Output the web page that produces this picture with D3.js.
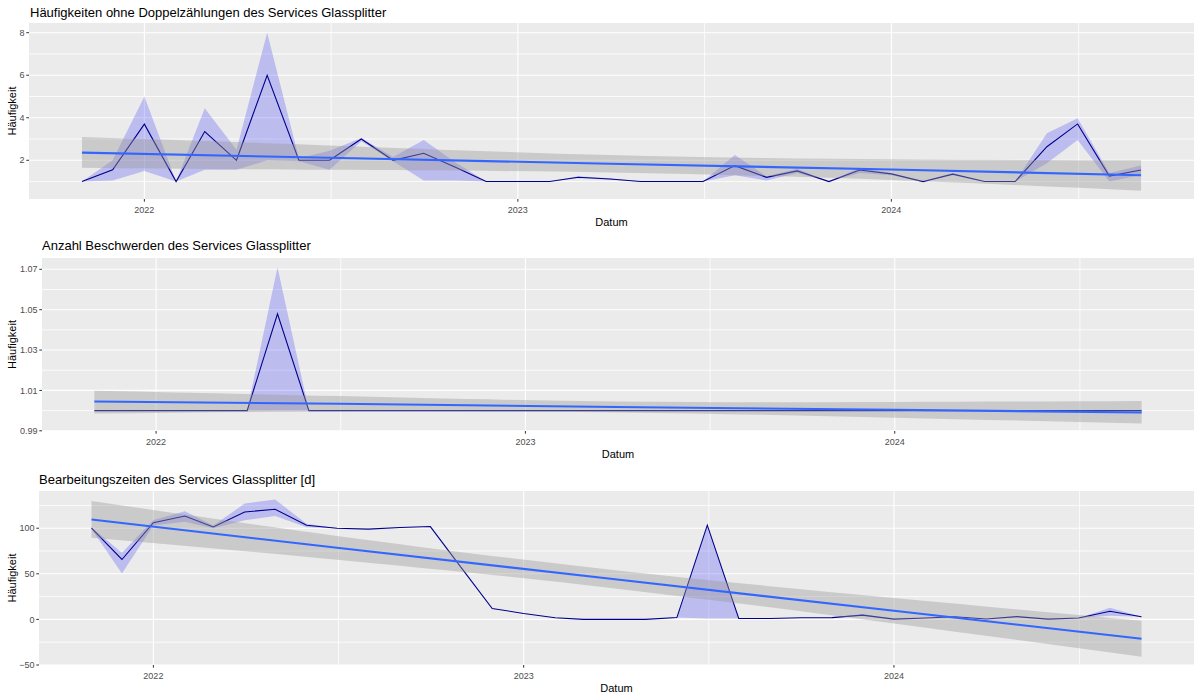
<!DOCTYPE html>
<html><head><meta charset="utf-8">
<script src="https://cdn.jsdelivr.net/npm/d3@7"></script>
<style>
html,body{margin:0;padding:0;background:#fff;}
svg{display:block;font-family:"Liberation Sans",Arial,sans-serif;}
</style></head>
<body>
<svg id="chart" width="1200" height="700"></svg>
<script>
// ---------- DATA ----------
const dates = ["2021-11-01","2021-12-01","2022-01-01","2022-02-01","2022-03-01","2022-04-01","2022-05-01","2022-06-01","2022-07-01","2022-08-01","2022-09-01","2022-10-01","2022-11-01","2022-12-01","2023-01-01","2023-02-01","2023-03-01","2023-04-01","2023-05-01","2023-06-01","2023-07-01","2023-08-01","2023-09-01","2023-10-01","2023-11-01","2023-12-01","2024-01-01","2024-02-01","2024-03-01","2024-04-01","2024-05-01","2024-06-01","2024-07-01","2024-08-01","2024-09-01"];

// Panel 1: Häufigkeiten ohne Doppelzählungen
const haeufValues = [1,1.55,3.7,1,3.35,2.0,6.0,2.0,2.0,3.0,2.0,2.33,1.67,1,1,1,1.2,1.12,1.0,1,1,1.75,1.2,1.5,1,1.54,1.36,1,1.35,1,1,2.64,3.71,1.26,1.54];
const haeufLower  = [1,1.05,1.5,1,1.55,1.55,2.0,1.95,1.55,2.9,1.95,1.05,1.05,1,1,1,1.15,1.08,1.0,1,1,1.3,1.05,1.4,1,1.4,1.3,1,1.3,1,1,1.86,2.96,1.0,1.31];
const haeufUpper  = [1,2.0,5.0,1,4.45,2.5,8.0,2.1,2.45,3.05,2.15,2.95,1.9,1,1,1,1.25,1.15,1.0,1,1,2.25,1.25,1.6,1,1.65,1.4,1,1.4,1,1,3.27,3.98,1.4,1.75];

// Panel 2: Anzahl Beschwerden
const beschValues = [1,1,1,1,1,1,1.048,1,1,1,1,1,1,1,1,1,1,1,1,1,1,1,1,1,1,1,1,1,1,1,1,1,1,1,1];
const beschLower  = [1,1,1,1,1,1,1.0,1,1,1,1,1,1,1,1,1,1,1,1,1,1,1,1,1,1,1,1,1,1,1,1,1,1,1,1];
const beschUpper  = [1,1,1,1,1,1,1.071,1,1,1,1,1,1,1,1,1,1,1,1,1,1,1,1,1,1,1,1,1,1,1,1,1,1,1,1];

// Panel 3: Bearbeitungszeiten [d]
const bearbValues = [100,65.7,106,113.4,101.4,117.8,120.8,103.3,100,99,100.7,101.8,56,12,6.5,1.8,0,0,0,2,103.3,1,1,1.8,2,4.7,0.3,1.5,2.9,0.5,3,0.3,1.5,9,2.9];
const bearbLower  = [99,50.4,103,107,100,108.7,113.4,101,100,99,100.7,101.8,56,12,6.5,1.8,0,0,0,2,1,1,1,1.8,2,3.6,0.3,1.5,2.9,0.5,3,0.3,1.5,4,2.9];
const bearbUpper  = [101,73,109,118.6,103,127,131.4,105,100,99,100.7,101.8,56,12,6.5,1.8,0,0,0,2,103.3,1,1,1.8,2,5.8,0.3,1.5,2.9,0.5,3,0.3,1.5,12.7,2.9];

// Linear trend (geom_smooth lm) read at a few dates
const trendDates = ["2021-11-01","2022-07-01","2023-04-01","2024-01-01","2024-09-01"];
const haeufTrend   = [2.36,2.12,1.84,1.565,1.30];
const haeufTrendLo = [1.65,1.55,1.43,1.07,0.57];
const haeufTrendHi = [3.10,2.70,2.25,2.05,2.00];
const beschTrend   = [1.0045,1.0034,1.0018,1.0004,0.9991];
const beschTrendLo = [0.9986,0.9996,0.9991,0.9965,0.9936];
const beschTrendHi = [1.0098,1.0072,1.0045,1.0043,1.0048];
const bearbTrend   = [109.5,78.5,44,9.5,-21.2];
const bearbTrendLo = [89.4,65.5,34,-4.5,-41];
const bearbTrendHi = [129.9,91.5,54,23.5,-1.5];

// Axis ticks
const xTickYears = ["2022","2023","2024"];
const haeufYTicks = [2,4,6,8];       const haeufYMinor = [1,3,5,7];
const beschYTicks = [0.99,1.01,1.03,1.05,1.07]; const beschYMinor = [1.00,1.02,1.04,1.06];
const bearbYTicks = [-50,0,50,100];  const bearbYMinor = [-25,25,75,125];

const titles = ["Häufigkeiten ohne Doppelzählungen des Services Glassplitter",
                "Anzahl Beschwerden des Services Glassplitter",
                "Bearbeitungszeiten des Services Glassplitter [d]"];

// ---------- DRAW ----------
const parse = d3.timeParse("%Y-%m-%d");
const svg = d3.select("#chart");

const panels = [
  {title:titles[0], vals:haeufValues, lo:haeufLower, hi:haeufUpper, tr:haeufTrend, trLo:haeufTrendLo, trHi:haeufTrendHi,
   yTicks:haeufYTicks, yMinor:haeufYMinor, fmt:d=>d3.format("d")(d), yDomain:[0.18,8.456],
   box:{left:29, right:1194, top:23, bottom:199}, titleY:17, titleX:30},
  {title:titles[1], vals:beschValues, lo:beschLower, hi:beschUpper, tr:beschTrend, trLo:beschTrendLo, trHi:beschTrendHi,
   yTicks:beschYTicks, yMinor:beschYMinor, fmt:d=>d3.format(".2f")(d), yDomain:[0.9899,1.0756],
   box:{left:42, right:1194, top:258, bottom:431}, titleY:250, titleX:42},
  {title:titles[2], vals:bearbValues, lo:bearbLower, hi:bearbUpper, tr:bearbTrend, trLo:bearbTrendLo, trHi:bearbTrendHi,
   yTicks:bearbYTicks, yMinor:bearbYMinor, fmt:d=>d3.format("d")(d), yDomain:[-50,140.8],
   box:{left:39, right:1194, top:491, bottom:665}, titleY:484, titleX:39}
];

const dts = dates.map(parse);
const tDts = trendDates.map(parse);
const ext = d3.extent(dts);
const span = ext[1]-ext[0];
const xDomain = [new Date(+ext[0]-0.05*span), new Date(+ext[1]+0.05*span)];

panels.forEach((p,pi)=>{
  const b = p.box;
  const x = d3.scaleTime().domain(xDomain).range([b.left,b.right]);
  const y = d3.scaleLinear().domain(p.yDomain).range([b.bottom,b.top]);
  const g = svg.append("g");
  g.append("rect").attr("x",b.left).attr("y",b.top).attr("width",b.right-b.left).attr("height",b.bottom-b.top).attr("fill","#EBEBEB");

  const majors = xTickYears.map(s=>parse(s+"-01-01"));
  const allYears = d3.range(2020,2027).map(yr=>new Date(yr,0,1));
  const minors = [];
  for(let i=0;i<allYears.length-1;i++){
    const m = new Date((+allYears[i]+ +allYears[i+1])/2);
    if(m>=xDomain[0] && m<=xDomain[1]) minors.push(m);
  }
  // grid
  g.selectAll(null).data(p.yMinor).enter().append("line")
    .attr("x1",b.left).attr("x2",b.right).attr("y1",d=>y(d)).attr("y2",d=>y(d))
    .attr("stroke","#fff").attr("stroke-width",0.8);
  g.selectAll(null).data(minors).enter().append("line")
    .attr("y1",b.top).attr("y2",b.bottom).attr("x1",d=>x(d)).attr("x2",d=>x(d))
    .attr("stroke","#fff").attr("stroke-width",0.8);
  g.selectAll(null).data(p.yTicks).enter().append("line")
    .attr("x1",b.left).attr("x2",b.right).attr("y1",d=>y(d)).attr("y2",d=>y(d))
    .attr("stroke","#fff").attr("stroke-width",1.1);
  g.selectAll(null).data(majors).enter().append("line")
    .attr("y1",b.top).attr("y2",b.bottom).attr("x1",d=>x(d)).attr("x2",d=>x(d))
    .attr("stroke","#fff").attr("stroke-width",1.1);

  const clipId = "clip"+pi;
  svg.append("clipPath").attr("id",clipId).append("rect")
    .attr("x",b.left).attr("y",b.top).attr("width",b.right-b.left).attr("height",b.bottom-b.top);
  const pg = g.append("g").attr("clip-path",`url(#${clipId})`);

  // ribbon (range)
  const idx = d3.range(dts.length);
  pg.append("path").datum(idx)
    .attr("d", d3.area().x(i=>x(dts[i])).y0(i=>y(p.lo[i])).y1(i=>y(p.hi[i])))
    .attr("fill","#0000FF").attr("fill-opacity",0.2);
  // mean line
  pg.append("path").datum(idx)
    .attr("d", d3.line().x(i=>x(dts[i])).y(i=>y(p.vals[i])))
    .attr("fill","none").attr("stroke","#00008B").attr("stroke-width",1.1);
  // trend band
  const tIdx = d3.range(tDts.length);
  pg.append("path").datum(tIdx)
    .attr("d", d3.area().curve(d3.curveNatural).x(i=>x(tDts[i])).y0(i=>y(p.trLo[i])).y1(i=>y(p.trHi[i])))
    .attr("fill","#999999").attr("fill-opacity",0.4);
  pg.append("path").datum(tIdx)
    .attr("d", d3.line().x(i=>x(tDts[i])).y(i=>y(p.tr[i])))
    .attr("fill","none").attr("stroke","#3366FF").attr("stroke-width",2.1);

  // axes ticks
  g.selectAll(null).data(p.yTicks).enter().append("line")
    .attr("x1",b.left-2.7).attr("x2",b.left).attr("y1",d=>y(d)).attr("y2",d=>y(d))
    .attr("stroke","#333").attr("stroke-width",1);
  g.selectAll(null).data(p.yTicks).enter().append("text")
    .attr("x",b.left-4.5).attr("y",d=>y(d)).attr("dy","0.35em")
    .attr("text-anchor","end").attr("font-size",9).attr("fill","#4D4D4D").text(p.fmt);
  g.selectAll(null).data(majors).enter().append("line")
    .attr("y1",b.bottom).attr("y2",b.bottom+2.7).attr("x1",d=>x(d)).attr("x2",d=>x(d))
    .attr("stroke","#333").attr("stroke-width",1);
  g.selectAll(null).data(majors).enter().append("text")
    .attr("x",d=>x(d)).attr("y",b.bottom+14.2)
    .attr("text-anchor","middle").attr("font-size",9).attr("fill","#4D4D4D").text(d3.timeFormat("%Y"));

  // titles
  g.append("text").attr("x",p.titleX).attr("y",p.titleY).attr("font-size",13).attr("fill","#000").text(p.title);
  g.append("text").attr("x",(b.left+b.right)/2).attr("y",b.bottom+26.5)
    .attr("text-anchor","middle").attr("font-size",11).attr("fill","#000").text("Datum");
  g.append("text").attr("transform",`translate(12,${(b.top+b.bottom)/2}) rotate(-90)`)
    .attr("text-anchor","middle").attr("dy","0.35em").attr("font-size",11).attr("fill","#000").text("Häufigkeit");
});
</script>
</body></html>
